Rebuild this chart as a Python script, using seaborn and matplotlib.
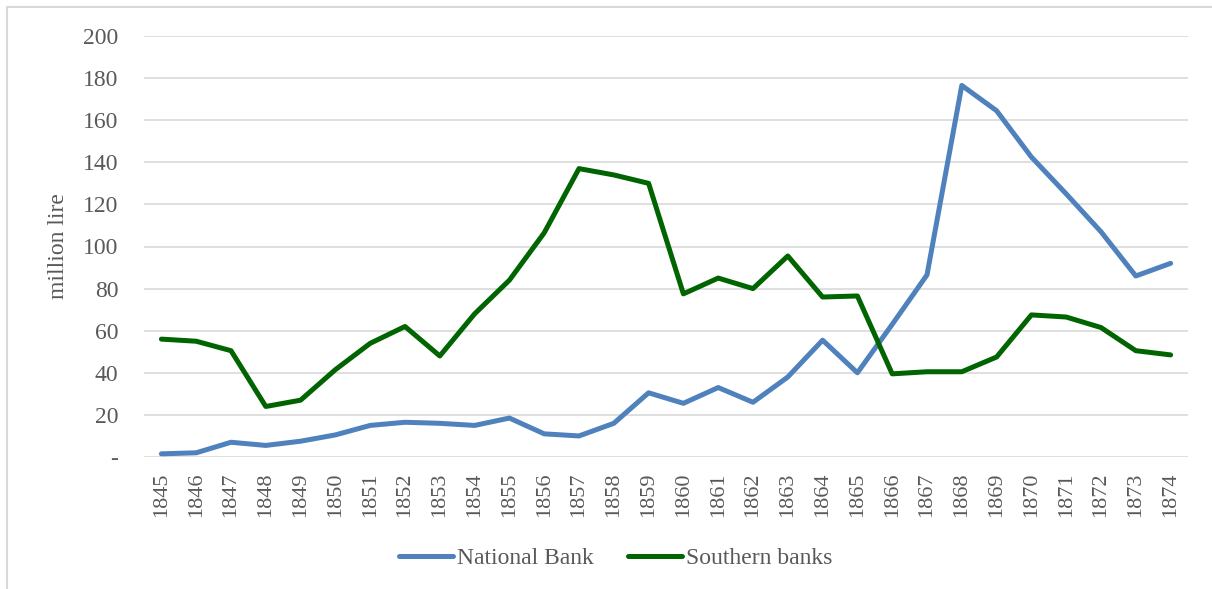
import pandas as pd
import seaborn as sns
from matplotlib import pyplot as plt
from matplotlib.lines import Line2D

years = list(range(1845, 1875))

national_bank = [1.5, 2, 7, 5.5, 7.5, 10.5, 15, 16.5, 16, 15,
                 18.5, 11, 10, 16, 30.5, 25.5, 33, 26, 38, 55.5,
                 40, 63, 86.5, 176.5, 164.5, 142.5, 125, 107, 86, 92]

southern_banks = [56, 55, 50.5, 24, 27, 41.5, 54, 62, 48, 68,
                  84, 106.5, 137, 134, 130, 77.5, 85, 80, 95.5, 76,
                  76.5, 39.5, 40.5, 40.5, 47.5, 67.5, 66.5, 61.5, 50.5, 48.5]

series_names = ["National Bank", "Southern banks"]
series_colors = ["#4F81BD", "#006400"]

y_ticks = [0, 20, 40, 60, 80, 100, 120, 140, 160, 180, 200]
y_tick_labels = ["-"] + [str(v) for v in y_ticks[1:]]

pdf_long = pd.DataFrame({
    "year": years * 2,
    "value": national_bank + southern_banks,
    "series": [series_names[0]] * len(years) + [series_names[1]] * len(years),
})

sns.set_theme(style="white")
plt.rcParams["font.family"] = ["Liberation Serif", "DejaVu Serif"]

f = plt.figure(figsize=(12.12, 5.89), dpi=100)
ax = f.add_axes([144 / 1212, 1 - 457 / 589, 1044 / 1212, 421 / 589])

sns.lineplot(data=pdf_long, x="year", y="value", hue="series",
             palette=dict(zip(series_names, series_colors)),
             linewidth=3.6, ax=ax, legend=False)

ax.set_xlim(1844.5, 1874.5)
ax.set_ylim(0, 200)
ax.set_yticks(y_ticks)
ax.set_yticklabels(y_tick_labels)
ax.set_xticks(years)
ax.set_xticklabels([str(y) for y in years], rotation=90)
ax.tick_params(axis="both", labelcolor="#595959", length=0)
ax.tick_params(axis="y", labelsize=17, pad=18.5)
ax.tick_params(axis="x", labelsize=16, pad=11)
ax.yaxis.grid(True, color="#D9D9D9", linewidth=1.2)
ax.set_axisbelow(True)
for spine in ax.spines.values():
    spine.set_visible(False)

ax.set_xlabel("")
ax.set_ylabel("million lire", fontsize=17, color="#595959", labelpad=10)

handles = [Line2D([0], [0], color=c, linewidth=3.6) for c in series_colors]
f.legend(handles, series_names, loc="center", bbox_to_anchor=(0.508, 1 - 558 / 589),
         ncol=2, frameon=False, fontsize=17, labelcolor="#595959",
         handlelength=2.3, handletextpad=0.15, columnspacing=1.45,
         borderpad=0, borderaxespad=0)

# outer chart border (Excel style), cut off at right and bottom
f.add_artist(Line2D([7 / 1212, 7 / 1212], [0, 1 - 7 / 589], color="#D9D9D9",
                    linewidth=1.5, transform=f.transFigure))
f.add_artist(Line2D([7 / 1212, 1], [1 - 7 / 589, 1 - 7 / 589], color="#D9D9D9",
                    linewidth=1.5, transform=f.transFigure))

f.savefig("out.png", dpi=100)
